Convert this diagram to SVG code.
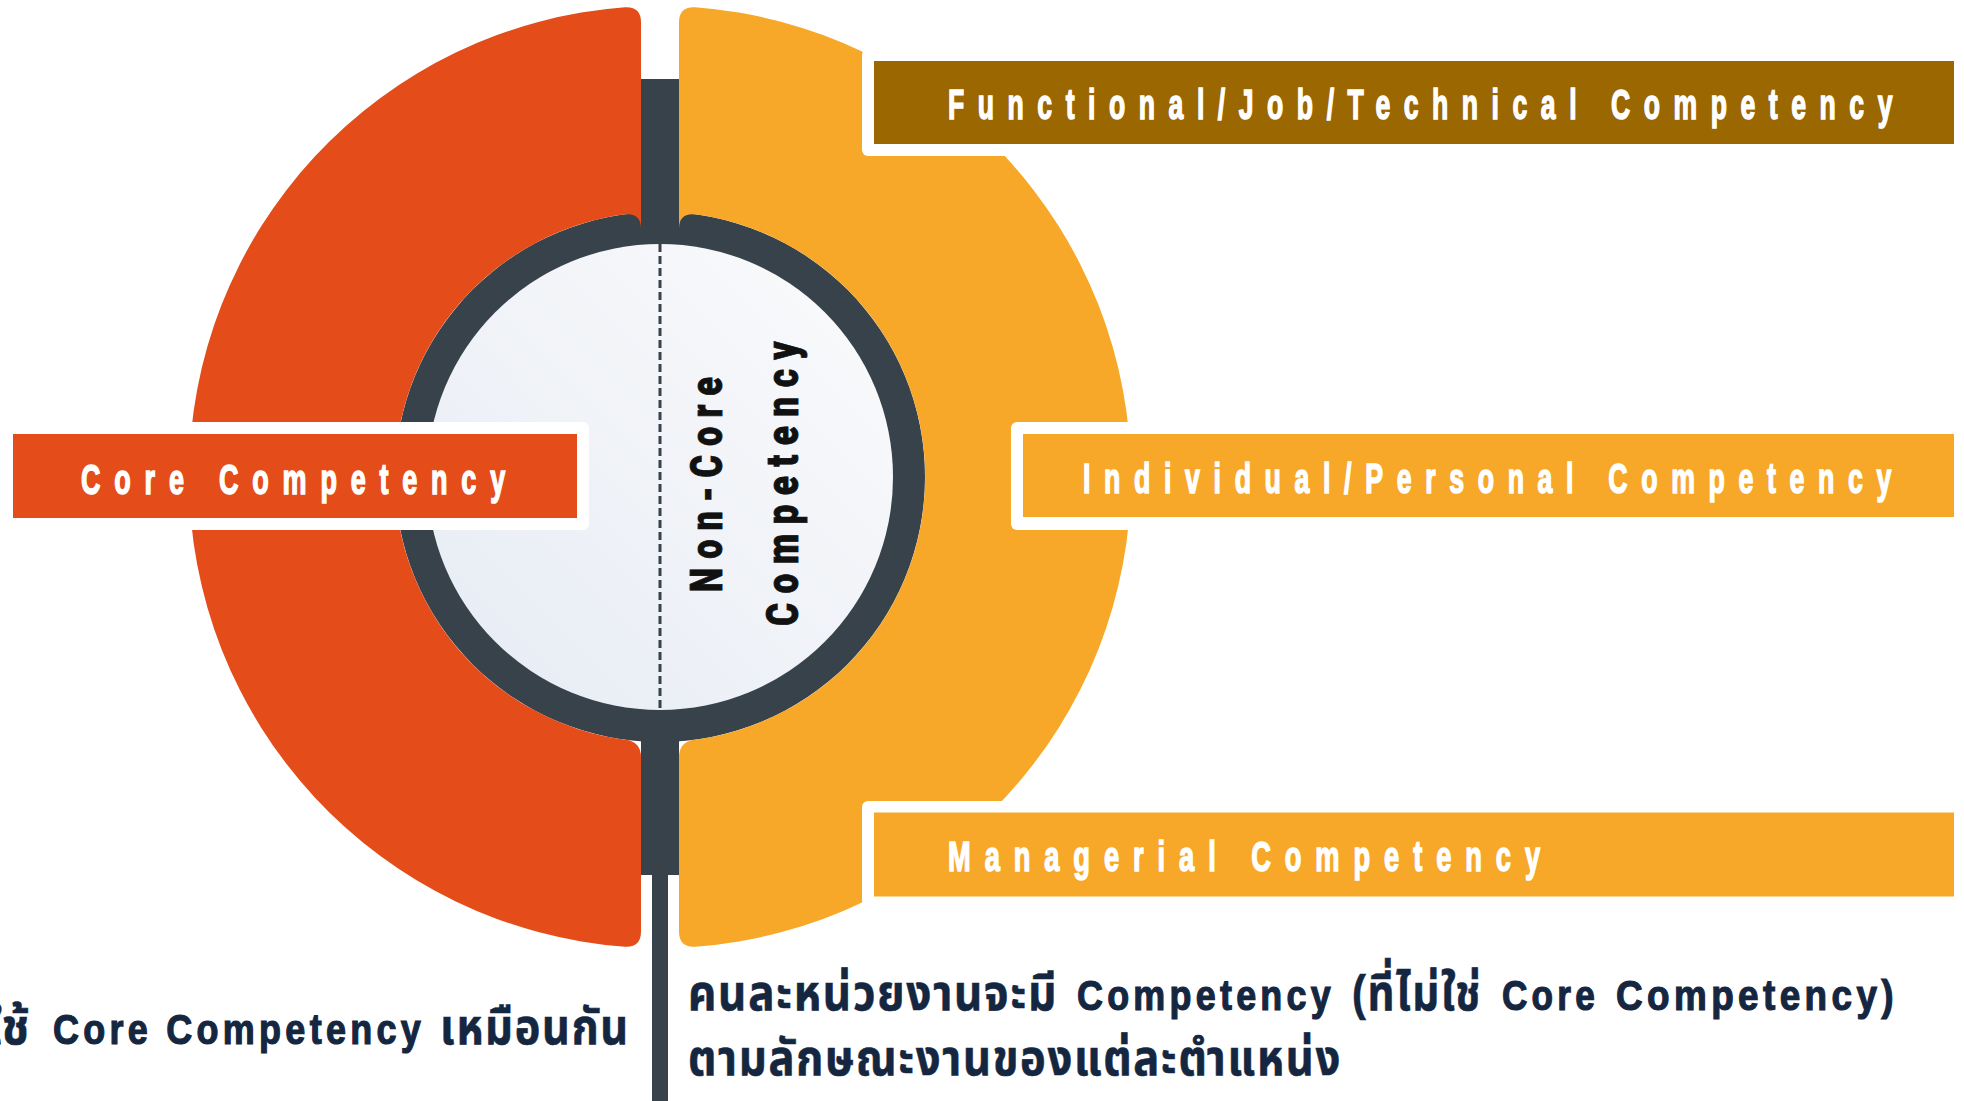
<svg xmlns="http://www.w3.org/2000/svg" width="1964" height="1101" viewBox="0 0 1964 1101">
<defs>
<linearGradient id="innerGrad" x1="1" y1="0" x2="0" y2="1">
<stop offset="0" stop-color="#FBFBFC"/>
<stop offset="1" stop-color="#E6EBF4"/>
</linearGradient>
<style>
.dark{fill:#37424A}
.red{fill:#E44C1A}
.orange{fill:#F7A828}
.brown{fill:#9A6700}
.outline{fill:#FFFFFF}
.lbl{font-family:"Liberation Sans",Arial,sans-serif;font-weight:bold;font-size:43px;fill:#FFFFFF;stroke:#FFFFFF;stroke-width:1.6px;letter-spacing:22px}
.mid{font-family:Roboto,"Liberation Sans",Arial,sans-serif;font-weight:900;font-size:45px;fill:#111111;stroke:#111111;stroke-width:0.8px;letter-spacing:12px;text-anchor:middle}
.thai{font-family:"Liberation Sans","Noto Sans Thai","Noto Sans Thai UI","Loma","Garuda","Tlwg Typo","DejaVu Sans",sans-serif;font-weight:bold;font-size:42px;fill:#152641;stroke:#152641;stroke-width:1.2px;letter-spacing:5px}
.th{font-size:50px;letter-spacing:2px;stroke-width:0.6px}
</style>
</defs>
<rect width="1964" height="1101" fill="#FFFFFF"/>
<g id="connectors">
<rect class="dark" x="641" y="79" width="38" height="796"/>
<rect class="dark" x="652" y="870" width="16" height="231"/>
</g>
<g id="ring">
<circle class="dark" cx="660" cy="477" r="265"/>
<circle cx="660" cy="477" r="233" fill="url(#innerGrad)"/>
<line x1="660" y1="244" x2="660" y2="711" stroke="#37424A" stroke-width="3" stroke-dasharray="8 4"/>
</g>
<g id="core-arc">
<path class="red" d="M 641,22.4 Q 641,6.4 625,7.3 A 471 471 0 0 0 625,946.7 Q 641,947.6 641,931.6 L 641,757.3 Q 641,741.3 625,739.7 A 265 265 0 0 1 625,214.3 Q 641,212.7 641,228.7 Z"/>
</g>
<g id="noncore-arc">
<path class="orange" d="M 679,22.4 Q 679,6.4 695,7.3 A 471 471 0 0 1 695,946.7 Q 679,947.6 679,931.6 L 679,757.3 Q 679,741.3 695,739.7 A 265 265 0 0 0 695,214.3 Q 679,212.7 679,228.7 Z"/>
</g>
<g id="noncore-label">
<text class="mid" transform="translate(722,480) rotate(-90)" textLength="224" lengthAdjust="spacingAndGlyphs">Non-Core</text>
<text class="mid" transform="translate(798,479) rotate(-90)" textLength="294" lengthAdjust="spacingAndGlyphs">Competency</text>
</g>
<g id="core">
<rect class="outline" x="-10" y="422" width="599" height="108" rx="6"/>
<rect class="red" x="13" y="434" width="564" height="84"/>
<text class="lbl" x="81" y="494" textLength="438" lengthAdjust="spacingAndGlyphs">Core Competency</text>
</g>
<g id="functional">
<rect class="outline" x="862" y="49" width="1110" height="107" rx="6"/>
<rect class="brown" x="874" y="61" width="1080" height="83"/>
<text class="lbl" x="948" y="119" textLength="958" lengthAdjust="spacingAndGlyphs">Functional/Job/Technical Competency</text>
</g>
<g id="individual">
<rect class="outline" x="1011" y="422" width="960" height="108" rx="6"/>
<rect class="orange" x="1023" y="434" width="931" height="83"/>
<text class="lbl" x="1083" y="493" textLength="822" lengthAdjust="spacingAndGlyphs">Individual/Personal Competency</text>
</g>
<g id="managerial">
<rect class="outline" x="862" y="801" width="1110" height="107" rx="6"/>
<rect class="orange" x="874" y="812.5" width="1080" height="84"/>
<text class="lbl" x="948" y="871" textLength="606" lengthAdjust="spacingAndGlyphs">Managerial Competency</text>
</g>
<g id="core-note">
<text class="thai" y="1044"><tspan class="th" x="-14" textLength="45" lengthAdjust="spacingAndGlyphs">ใช้</tspan> <tspan x="53" textLength="372" lengthAdjust="spacingAndGlyphs">Core Competency</tspan> <tspan class="th" x="440" textLength="190" lengthAdjust="spacingAndGlyphs">เหมือนกัน</tspan></text>
</g>
<g id="noncore-note">
<text class="thai" y="1010"><tspan class="th" x="688" textLength="370" lengthAdjust="spacingAndGlyphs">คนละหน่วยงานจะมี</tspan> <tspan x="1077" textLength="258" lengthAdjust="spacingAndGlyphs">Competency</tspan> <tspan class="th" x="1352" textLength="130" lengthAdjust="spacingAndGlyphs">(ที่ไม่ใช่</tspan> <tspan x="1502" textLength="97" lengthAdjust="spacingAndGlyphs">Core</tspan> <tspan x="1616" textLength="282" lengthAdjust="spacingAndGlyphs">Competency)</tspan></text>
<text class="thai" y="1075"><tspan class="th" x="688" textLength="654" lengthAdjust="spacingAndGlyphs">ตามลักษณะงานของแต่ละตำแหน่ง</tspan></text>
</g>
</svg>
